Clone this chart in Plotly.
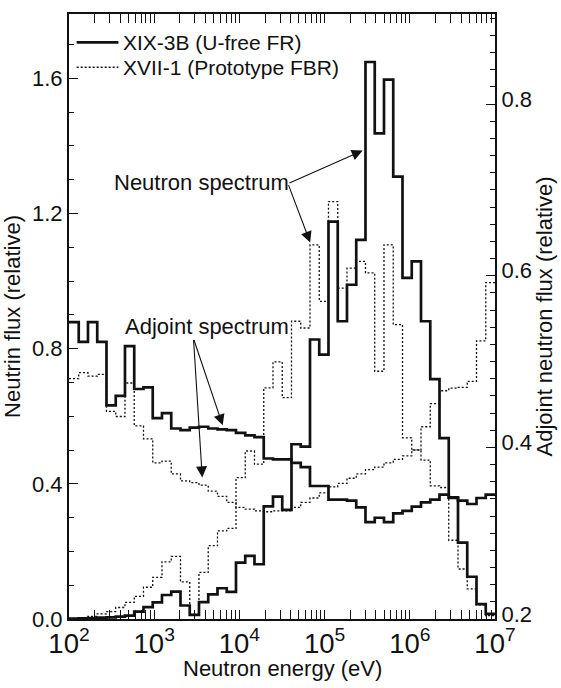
import math
import plotly.graph_objects as go

# Energy group structure: constant lethargy width of 0.25 below 10 MeV
E_TOP = 1.0e7
LETHARGY_WIDTH = 0.25
N_GROUPS = 46
edges = sorted(E_TOP * math.exp(-LETHARGY_WIDTH * k) for k in range(N_GROUPS + 1))
edges[0] = 1.0e2  # lowest group is drawn from 100 eV

# Neutron spectra (left axis, relative), groups ordered from low to high energy
flux_xix3b = [0.001, 0.002, 0.003, 0.004, 0.005, 0.007, 0.010, 0.022, 0.035, 0.049,
              0.071, 0.081, 0.040, 0.012, 0.050, 0.073, 0.091, 0.080, 0.167, 0.187,
              0.162, 0.333, 0.362, 0.323, 0.517, 0.510, 0.827, 0.782, 1.176, 0.881,
              0.989, 1.122, 1.648, 1.437, 1.596, 1.309, 1.009, 1.058, 0.881, 0.710,
              0.535, 0.360, 0.226, 0.125, 0.044, 0.015]
flux_xvii1 = [0.002, 0.004, 0.008, 0.015, 0.022, 0.034, 0.049, 0.067, 0.094, 0.123,
              0.169, 0.185, 0.110, 0.014, 0.138, 0.217, 0.261, 0.268, 0.418, 0.497,
              0.458, 0.684, 0.761, 0.655, 0.881, 0.861, 1.107, 0.940, 1.235, 0.979,
              1.038, 1.058, 1.024, 0.733, 1.107, 0.871, 0.536, 0.500, 0.470, 0.394,
              0.389, 0.233, 0.148, 0.089, 0.042, 0.010]

# Adjoint spectra (right axis, relative)
adj_xix3b = [0.546, 0.523, 0.546, 0.523, 0.449, 0.460, 0.518, 0.468, 0.470, 0.434,
             0.440, 0.422, 0.420, 0.423, 0.424, 0.422, 0.421, 0.420, 0.417, 0.414,
             0.412, 0.387, 0.386, 0.386, 0.382, 0.377, 0.355, 0.355, 0.339, 0.339,
             0.338, 0.330, 0.313, 0.318, 0.313, 0.323, 0.326, 0.331, 0.336, 0.339,
             0.345, 0.341, 0.338, 0.334, 0.341, 0.345]
adj_xvii1 = [0.480, 0.487, 0.483, 0.485, 0.442, 0.436, 0.475, 0.425, 0.410, 0.382,
             0.384, 0.369, 0.361, 0.359, 0.356, 0.349, 0.343, 0.336, 0.330, 0.328,
             0.326, 0.325, 0.326, 0.326, 0.330, 0.336, 0.341, 0.347, 0.354, 0.358,
             0.364, 0.369, 0.374, 0.377, 0.382, 0.386, 0.390, 0.397, 0.424, 0.451,
             0.466, 0.469, 0.470, 0.477, 0.524, 0.592]

LEGEND_NAMES = ["XIX-3B (U-free FR)", "XVII-1 (Prototype FBR)"]

FONT = "Liberation Sans, Arial, Helvetica, sans-serif"
BLACK = "#111111"
SOLID = dict(color=BLACK, width=2.7, shape="hv")
DOTTED = dict(color=BLACK, width=1.3, dash="2px,2px", shape="hv")
TEXT_SIZE = 22
LEGEND_SIZE = 21


def step_y(values):
    return list(values) + [values[-1]]


fig = go.Figure()
fig.add_trace(go.Scatter(x=edges, y=step_y(flux_xvii1), mode="lines",
                         line=DOTTED, showlegend=False))
fig.add_trace(go.Scatter(x=edges, y=step_y(flux_xix3b), mode="lines",
                         line=SOLID, showlegend=False))
fig.add_trace(go.Scatter(x=edges, y=step_y(adj_xvii1), mode="lines",
                         line=DOTTED, yaxis="y2", showlegend=False))
fig.add_trace(go.Scatter(x=edges, y=step_y(adj_xix3b), mode="lines",
                         line=SOLID, yaxis="y2", showlegend=False))

# Legend drawn inside the upper-left corner of the frame
legend_rows = [(0.953, dict(color=BLACK, width=2.7)),
               (0.912, dict(color=BLACK, width=1.3, dash="2px,2px"))]
shapes = []
annotations = []
for (ypos, ln), name in zip(legend_rows, LEGEND_NAMES):
    shapes.append(dict(type="line", xref="x domain", yref="y domain",
                       x0=0.018, x1=0.116, y0=ypos, y1=ypos, line=ln))
    annotations.append(dict(xref="x domain", yref="y domain", x=0.122, y=ypos,
                            text=name, showarrow=False, xanchor="left",
                            yanchor="middle",
                            font=dict(family=FONT, size=LEGEND_SIZE, color=BLACK)))

# Labels with arrows pointing at the curves (x in log10 eV, y in left-axis units)
annotations.append(dict(x=3.56, y=1.290, xref="x", yref="y", text="Neutron spectrum",
                        showarrow=False, font=dict(family=FONT, size=TEXT_SIZE, color=BLACK)))
annotations.append(dict(x=3.615, y=0.865, xref="x", yref="y", text="Adjoint spectrum",
                        showarrow=False, font=dict(family=FONT, size=TEXT_SIZE, color=BLACK)))
arrows = [((4.57, 1.288), (5.447, 1.386)),
          ((4.57, 1.288), (4.831, 1.114)),
          ((3.461, 0.830), (3.804, 0.573)),
          ((3.461, 0.830), (3.564, 0.419))]
for (tx, ty), (hx, hy) in arrows:
    annotations.append(dict(x=hx, y=hy, ax=tx, ay=ty, xref="x", yref="y",
                            axref="x", ayref="y", text="", showarrow=True,
                            arrowhead=2, arrowsize=2.0, arrowwidth=1.1,
                            arrowcolor=BLACK, standoff=0, startstandoff=0))

# x-axis title placed just beneath the tick labels
annotations.append(dict(xref="x domain", yref="y domain", x=0.5, y=-0.082,
                        text="Neutron energy (eV)", showarrow=False,
                        xanchor="center", yanchor="middle",
                        font=dict(family=FONT, size=TEXT_SIZE, color=BLACK)))

tick_font = dict(family=FONT, size=TEXT_SIZE, color=BLACK)
title_font = dict(family=FONT, size=TEXT_SIZE, color=BLACK)

fig.update_layout(
    width=561, height=688,
    margin=dict(l=65, r=58, t=13, b=69),
    paper_bgcolor="white", plot_bgcolor="white",
    showlegend=False,
    shapes=shapes, annotations=annotations,
    xaxis=dict(type="log", range=[2, 7], dtick=1, exponentformat="power",
               showgrid=False, zeroline=False,
               showline=True, linecolor=BLACK, linewidth=2, mirror="allticks",
               ticks="inside", ticklen=9, tickwidth=1.3, tickcolor=BLACK,
               minor=dict(ticks="inside", ticklen=5, tickwidth=1, tickcolor=BLACK, dtick="D1"),
               tickfont=tick_font),
    yaxis=dict(range=[0, 1.79], dtick=0.4, tick0=0, tickformat=".1f",
               showgrid=False, zeroline=False,
               showline=True, linecolor=BLACK, linewidth=2,
               ticks="inside", ticklen=9, tickwidth=1.3, tickcolor=BLACK,
               minor=dict(ticks="inside", ticklen=5, tickwidth=1, tickcolor=BLACK, dtick=0.1),
               tickfont=tick_font,
               title=dict(text="Neutrin flux (relative)", font=title_font, standoff=5)),
    yaxis2=dict(overlaying="y", side="right", range=[0.2, 0.905], dtick=0.2, tick0=0.2,
                tickformat=".1f", showgrid=False, zeroline=False,
                showline=True, linecolor=BLACK, linewidth=2,
                ticks="inside", ticklen=9, tickwidth=1.3, tickcolor=BLACK,
                ticklabelshift=-5,
                minor=dict(ticks="inside", ticklen=5, tickwidth=1, tickcolor=BLACK, dtick=0.02),
                tickfont=tick_font,
                title=dict(text="Adjoint neutron flux (relative)", font=title_font, standoff=2)),
)

fig.write_html("out.html")
